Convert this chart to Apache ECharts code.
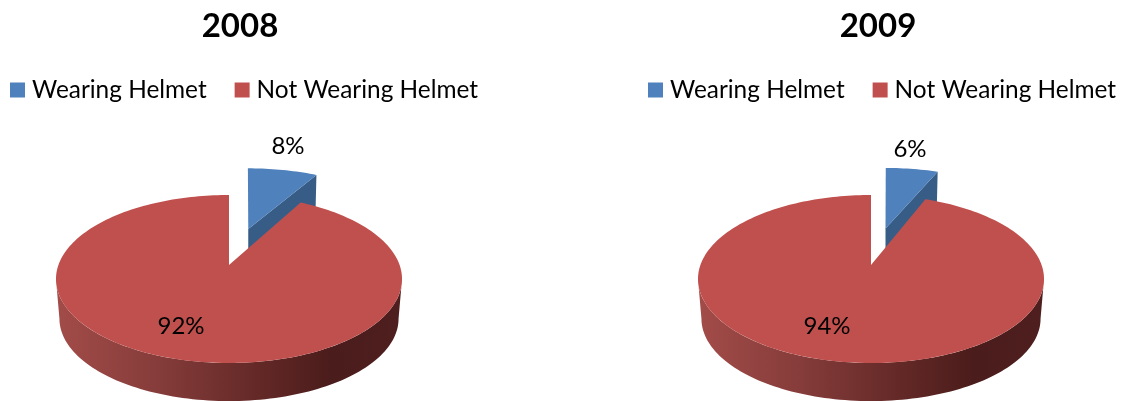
<!DOCTYPE html>
<html><head><meta charset="utf-8">
<style>html,body{margin:0;padding:0;background:#fff}#c{width:1125px;height:401px}</style>
<script src="https://cdn.jsdelivr.net/npm/echarts@6/dist/echarts.min.js"></script>
</head><body><div id="c"></div>
<script>
const categories = ['Wearing Helmet', 'Not Wearing Helmet'];
const years = ['2008', '2009'];
const values2008 = [8, 92];
const values2009 = [6, 94];

const FONT = 'Lato, Carlito, "Open Sans", sans-serif';
const BLUE = '#4f81bd', BLUE_WALL = '#375d87', RED = '#c0504d';
// layout of each pie: apex position, label offsets, title and legend positions
const pies = [
  {values: values2008, cx: 229, cy: 265, labels: [[59, -119], [-48, 61]], titleX: 235, legendX: 10},
  {values: values2009, cx: 871, cy: 265, labels: [[39, -116], [-44, 61]], titleX: 873, legendX: 648}
];
const A = 170.6, B = 81.67, PERSP = 1 / 6, DEPTH = 40, BASE_SCALE = 0.98, EXPLODE = 0.49;

function project(p, u, v, s, dy) {
  const w = 1 + PERSP * v;
  return [p.cx + s * A * u / w, p.cy + dy - s * B * v / w];
}
function rim(p, a0, a1, ou, ov, s, dy) {
  const pts = [], n = Math.max(2, Math.ceil(Math.abs(a1 - a0) / 1.5));
  for (let i = 0; i <= n; i++) {
    const t = (a0 + (a1 - a0) * i / n) * Math.PI / 180;
    const q = project(p, ou + Math.sin(t), ov + Math.cos(t), s, dy);
    if (ou || ov) q[0] += 2.2 * Math.cos(t) + 3 * Math.sin(t);
    pts.push(q);
  }
  return pts;
}
function wallFill(p) {
  return new echarts.graphic.LinearGradient(p.cx - 174, 0, p.cx + 172, 0, [
    {offset: 0, color: '#a34c49'}, {offset: 0.3, color: '#853c3a'},
    {offset: 0.6, color: '#622826'}, {offset: 0.8, color: '#4a1c1b'},
    {offset: 1, color: '#4e1f1e'}
  ], true);
}
function labelEl(p, idx, v) {
  return {type: 'text', z2: 10, style: {
    text: v + '%', x: p.cx + p.labels[idx][0], y: p.cy + p.labels[idx][1],
    align: 'center', verticalAlign: 'middle', font: '24px ' + FONT, fill: '#000'
  }};
}
function renderSlice(p, idx) {
  return function (params, api) {
    const a0 = api.value(0) * 3.6, a1 = api.value(1) * 3.6;
    const val = api.value(2);
    const children = [];
    if (idx === 0) {
      const mid = (a0 + a1) / 2 * Math.PI / 180;
      const ou = EXPLODE * Math.sin(mid), ov = EXPLODE * Math.cos(mid);
      const apex = project(p, ou, ov, 1, 0), apexB = project(p, ou, ov, 1, DEPTH);
      const top = rim(p, a0, a1, ou, ov, 1, 0);
      const end = top[top.length - 1], endB = [end[0] - 1, end[1] + DEPTH];
      children.push({type: 'polygon', shape: {points: [apex, end, endB, apexB]}, style: {fill: BLUE_WALL}});
      children.push({type: 'polygon', shape: {points: [apex].concat(top)}, style: {fill: BLUE}});
    } else {
      const wa0 = 99.6, wa1 = 260.4;
      const up = rim(p, wa0, wa1, 0, 0, 1, 0);
      const low = rim(p, wa1, wa0, 0, 0, BASE_SCALE, DEPTH);
      children.push({type: 'polygon', shape: {points: up.concat(low)}, style: {fill: wallFill(p)}});
      children.push({type: 'polygon', shape: {points: [project(p, 0, 0, 1, 0)].concat(rim(p, a0, a1, 0, 0, 1, 0))}, style: {fill: RED}});
    }
    children.push(labelEl(p, idx, val));
    return {type: 'group', children};
  };
}

const series = [], title = [], legend = [];
pies.forEach((p, i) => {
  let acc = 0;
  p.values.forEach((v, idx) => {
    series.push({
      type: 'custom', name: categories[idx], coordinateSystem: 'none', silent: true,
      animation: false, clip: false,
      itemStyle: {color: idx === 0 ? BLUE : RED},
      renderItem: renderSlice(p, idx),
      data: [[acc, acc + v, v]]
    });
    acc += v;
  });
  title.push({text: years[i], left: p.titleX, top: 5, textAlign: 'center',
    textStyle: {fontFamily: FONT, fontWeight: 'bold', fontSize: 33, color: '#000'}});
  legend.push({data: categories, left: p.legendX, top: 78, orient: 'horizontal', selectedMode: false,
    icon: 'rect', itemWidth: 15, itemHeight: 15, itemGap: 28, padding: 0,
    textStyle: {fontFamily: FONT, fontSize: 24.4, color: '#000', padding: [0, 0, 0, 2]}});
});

const chart = echarts.init(document.getElementById('c'), null, {renderer: 'canvas'});
chart.setOption({backgroundColor: '#fff', animation: false, title, legend, series});
</script></body></html>
